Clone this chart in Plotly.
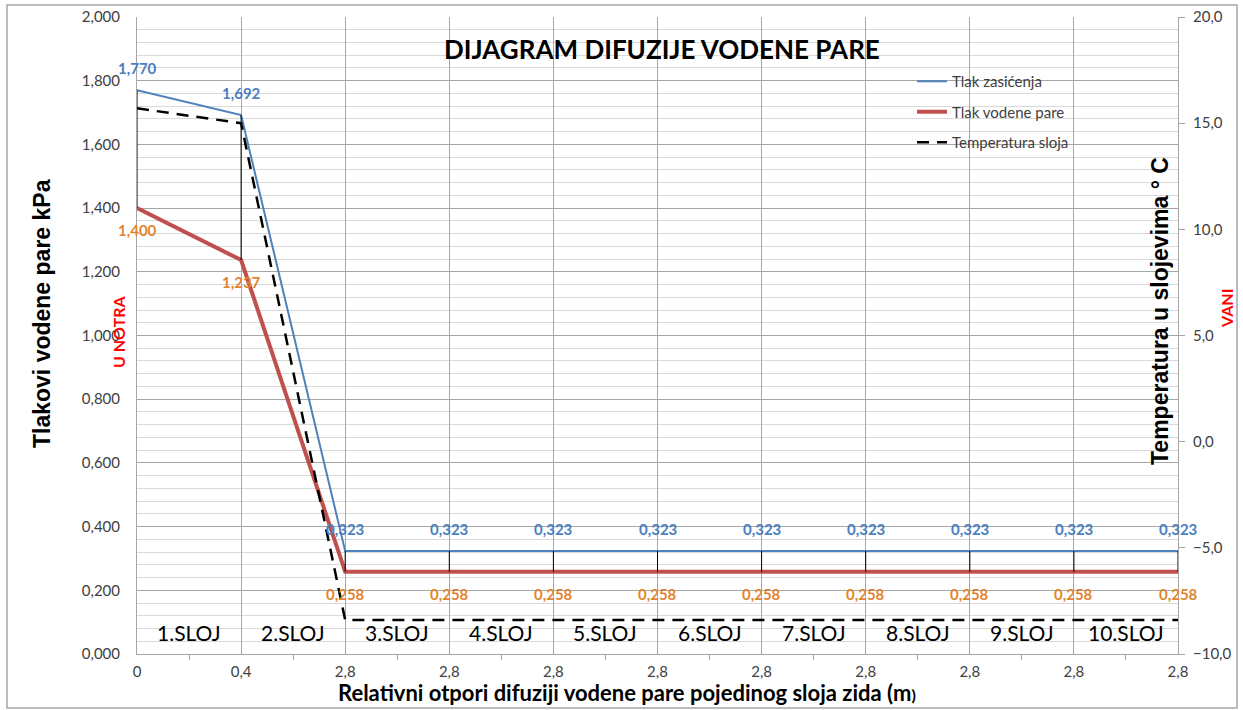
import plotly.graph_objects as go

# ---- data ----
x_labels = ["0", "0,4", "2,8", "2,8", "2,8", "2,8", "2,8", "2,8", "2,8", "2,8", "2,8"]
tlak_zasicenja = [1.770, 1.692, 0.323, 0.323, 0.323, 0.323, 0.323, 0.323, 0.323, 0.323, 0.323]
tlak_vodene_pare = [1.400, 1.237, 0.258, 0.258, 0.258, 0.258, 0.258, 0.258, 0.258, 0.258, 0.258]
temperatura_sloja = [15.7, 15.0, -8.4, -8.4, -8.4, -8.4, -8.4, -8.4, -8.4, -8.4, -8.4]
sloj_labels = ["1.SLOJ", "2.SLOJ", "3.SLOJ", "4.SLOJ", "5.SLOJ", "6.SLOJ",
               "7.SLOJ", "8.SLOJ", "9.SLOJ", "10.SLOJ"]

xs = list(range(len(x_labels)))

BLUE = "#4F81BD"
RED = "#C0504D"
BLUE_LBL = "#4A7EC0"
ORANGE_LBL = "#E0842F"
GRID = "#A6A6A6"
MINOR = "#D9D9D9"
CAL = "Lato"
ARIAL = "Liberation Sans, Arial"

W, H = 1243, 710
L, R, T, B = 137, 65, 17, 56
PW, PH = W - L - R, H - T - B


def px_x(px):
    return (px - L) / PW


def px_y(py):
    return (H - B - py) / PH


def fmt(v, d):
    return f"{v:.{d}f}".replace(".", ",")


fig = go.Figure()

fig.add_trace(go.Scatter(x=xs, y=tlak_zasicenja, mode="lines", name="Tlak zasićenja",
                         line=dict(color=BLUE, width=2), legendgroup="a",
                         hoverinfo="skip"))
fig.add_trace(go.Scatter(x=xs, y=tlak_vodene_pare, mode="lines", name="Tlak vodene pare",
                         line=dict(color=RED, width=4), legendgroup="b",
                         hoverinfo="skip"))
fig.add_trace(go.Scatter(x=xs, y=temperatura_sloja, mode="lines", name="Temperatura sloja",
                         line=dict(color="black", width=2.5, dash="12px,8px"),
                         yaxis="y2", legendgroup="c", hoverinfo="skip"))

# high-low (drop) lines between the two pressure series
hx, hy = [], []
for i in xs:
    hx += [i, i, None]
    hy += [tlak_zasicenja[i], tlak_vodene_pare[i], None]
fig.add_trace(go.Scatter(x=hx, y=hy, mode="lines", line=dict(color="black", width=1),
                         showlegend=False, hoverinfo="skip"))

C = dict(xanchor="center", yanchor="middle", showarrow=False)

ann = []
for i in xs:
    ann.append(dict(x=i, y=tlak_zasicenja[i], xref="x", yref="y", text=fmt(tlak_zasicenja[i], 3),
                    yshift=22, font=dict(family=CAL, size=15, color=BLUE_LBL, weight="bold"), **C))
    ann.append(dict(x=i, y=tlak_vodene_pare[i], xref="x", yref="y", text=fmt(tlak_vodene_pare[i], 3),
                    yshift=-22, font=dict(family=CAL, size=15, color=ORANGE_LBL, weight="bold"), **C))

for i, s in enumerate(sloj_labels):
    ann.append(dict(x=i + 0.5, y=px_y(632), xref="x", yref="paper", text=s,
                    font=dict(family=CAL, size=21, color="black"), **C))

ann += [
    dict(x=px_x(662), y=px_y(49), xref="paper", yref="paper", text="DIJAGRAM DIFUZIJE VODENE PARE",
         font=dict(family=CAL, size=26, color="black", weight="bold"), **C),
    dict(x=px_x(42), y=px_y(314), xref="paper", yref="paper", text="Tlakovi vodene pare kPa",
         textangle=-90, font=dict(family=ARIAL, size=23, color="black", weight="bold"), **C),
    dict(x=px_x(118), y=px_y(332), xref="paper", yref="paper", text="U NOTRA",
         textangle=-90, font=dict(family=CAL, size=16, color="#FF0000", weight="bold"), **C),
    dict(x=px_x(1160), y=px_y(311), xref="paper", yref="paper", text="Temperatura u slojevima ° C",
         textangle=-90, font=dict(family=ARIAL, size=23, color="black", weight="bold"), **C),
    dict(x=px_x(1226), y=px_y(309), xref="paper", yref="paper", text="VANI",
         textangle=-90, font=dict(family=CAL, size=16, color="#FF0000", weight="bold"), **C),
    dict(x=px_x(627), y=px_y(692), xref="paper", yref="paper",
         text="Relativni otpori difuziji vodene pare pojedinog sloja zida (m<span style='font-size:16px'>)</span>",
         font=dict(family=CAL, size=22, color="black", weight="bold"), **C),
]

fig.update_layout(
    width=W, height=H,
    margin=dict(l=L, r=R, t=T, b=B, pad=0, autoexpand=False),
    paper_bgcolor="white", plot_bgcolor="white",
    separators=",.",
    showlegend=True,
    legend=dict(x=px_x(912), y=px_y(65), xanchor="left", yanchor="top",
                bgcolor="rgba(0,0,0,0)", font=dict(family=CAL, size=15, color="#404040"),
                tracegroupgap=8, traceorder="grouped"),
    xaxis=dict(range=[0, len(x_labels) - 1], tickmode="array", tickvals=xs, ticktext=x_labels,
               automargin=False,
               showgrid=True, gridcolor=GRID, gridwidth=1, zeroline=False,
               showline=True, linecolor=GRID, linewidth=1, ticks="", ticklabelstandoff=4,
               tickfont=dict(family=CAL, size=15, color="#404040"),
               minor=dict(tick0=0.5, dtick=1, ticks="outside", ticklen=5, tickcolor=GRID,
                          showgrid=False)),
    yaxis=dict(range=[0, 2], dtick=0.2, tickformat=",.3f", showgrid=True, gridcolor=GRID,
               automargin=False,
               zeroline=False, showline=True, linecolor=GRID, ticks="", ticklabelstandoff=13,
               tickfont=dict(family=CAL, size=15, color="#404040"),
               minor=dict(dtick=0.04, showgrid=True, gridcolor=MINOR, gridwidth=1)),
    yaxis2=dict(range=[-10, 20], dtick=5, tickformat=".1f", overlaying="y", side="right",
                automargin=False,
                showgrid=False, zeroline=False, showline=True, linecolor=GRID,
                ticks="outside", ticklen=6, tickcolor=GRID, ticklabelstandoff=5,
                tickfont=dict(family=CAL, size=15, color="#404040")),
    annotations=ann,
    shapes=[dict(type="rect", xref="paper", yref="paper",
                 x0=px_x(7), x1=px_x(1237), y0=px_y(708), y1=px_y(5),
                 line=dict(color="#A6A6A6", width=1.5), layer="below")],
)

fig.write_html("out.html", config={"displayModeBar": False},
               post_script="document.body.style.margin='0';document.body.style.padding='0';")
